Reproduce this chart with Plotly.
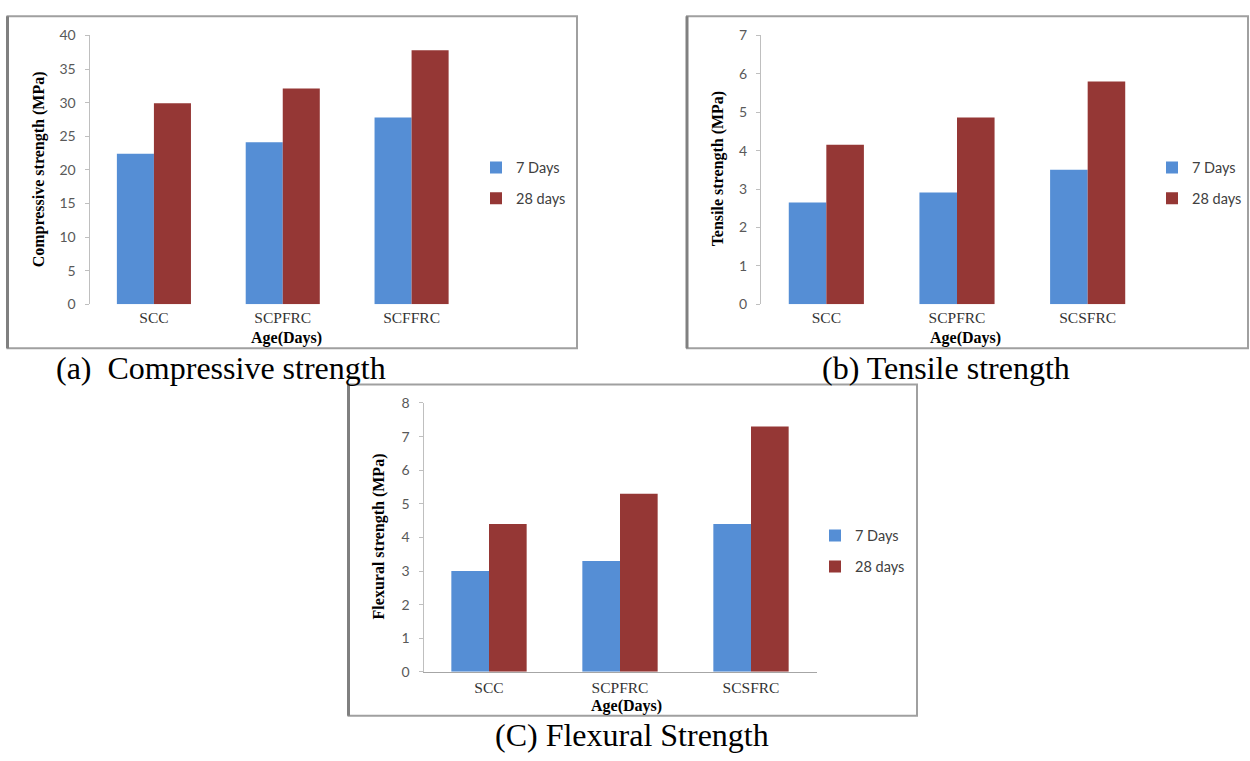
import plotly.graph_objects as go

W, H = 1250, 761

# ---- data ----
cats_a = ["SCC", "SCPFRC", "SCFFRC"]
cats_bc = ["SCC", "SCPFRC", "SCSFRC"]
series_names = ["7 Days", "28 days"]

compressive_7 = [22.4, 24.1, 27.8]
compressive_28 = [29.9, 32.1, 37.8]
tensile_7 = [2.65, 2.91, 3.50]
tensile_28 = [4.15, 4.86, 5.80]
flexural_7 = [3.0, 3.3, 4.4]
flexural_28 = [4.4, 5.3, 7.3]

y_titles = ["Compressive strength (MPa)", "Tensile strength (MPa)", "Flexural strength (MPa)"]
x_title = "Age(Days)"
captions = ["(a)\u00a0\u00a0Compressive strength", "(b) Tensile strength", "(C) Flexural Strength"]

BLUE = "#558ED5"
RED = "#953735"
TICK_FONT = dict(family="Lato, Liberation Sans, sans-serif", size=14, color="#595959")
CAT_FONT = dict(family="Liberation Serif, serif", size=15.5, color="#333333")
TITLE_FONT = dict(family="Liberation Serif, serif", size=16, color="#000000")
CAP_FONT = dict(family="Liberation Serif, serif", size=32, color="#000000")


def fx(px):
    return px / W


def fy(py):
    return 1 - py / H


fig = go.Figure()

panels = [
    dict(cats=cats_a, v7=compressive_7, v28=compressive_28, x="x", y="y", legend="legend"),
    dict(cats=cats_bc, v7=tensile_7, v28=tensile_28, x="x2", y="y2", legend="legend2"),
    dict(cats=cats_bc, v7=flexural_7, v28=flexural_28, x="x3", y="y3", legend="legend3"),
]

for p in panels:
    for name, vals, col in [(series_names[0], p["v7"], BLUE), (series_names[1], p["v28"], RED)]:
        fig.add_trace(go.Bar(
            x=p["cats"], y=vals, name=name, marker=dict(color=col, line=dict(width=0)),
            xaxis=p["x"], yaxis=p["y"], legend=p["legend"], legendgroup=p["legend"] + name,
        ))

# plot-area geometry (pixels)
geo = [
    dict(x0=89.5, x1=476, y0=302, y1=27, ymax=40, dtick=5),
    dict(x0=761, x1=1153, y0=302, y1=27, ymax=7, dtick=1),
    dict(x0=423.5, x1=816.5, y0=678, y1=403, ymax=8, dtick=1),
]

for i, g in enumerate(geo):
    sfx = "" if i == 0 else str(i + 1)
    fig.layout["xaxis" + sfx] = dict(
        domain=[fx(g["x0"]), fx(g["x1"])], anchor="y" + sfx, range=[-0.5, 2.5],
        showline=(i == 2), linecolor="#a6a6a6", linewidth=1, ticks="",
        tickfont=CAT_FONT, showgrid=False, zeroline=False, ticklabelstandoff=2,
    )
    fig.layout["yaxis" + sfx] = dict(
        domain=[fy(g["y0"]), fy(g["y1"])], anchor="x" + sfx, range=[0, g["ymax"]],
        dtick=g["dtick"], showline=True, linecolor="#bfbfbf", linewidth=1,
        ticks="outside", ticklen=4, tickcolor="#bfbfbf", tickfont=TICK_FONT,
        showgrid=False, zeroline=False, ticklabelstandoff=6,
    )

legend_common = dict(
    font=dict(family="Lato, Liberation Sans, sans-serif", size=14.5, color="#404040"),
    bgcolor="rgba(0,0,0,0)", itemwidth=30, tracegroupgap=9, traceorder="grouped",
    xanchor="left", yanchor="middle",
)
fig.update_layout(
    legend=dict(x=fx(476), y=fy(178), **legend_common),
    legend2=dict(x=fx(1152), y=fy(178), **legend_common),
    legend3=dict(x=fx(815), y=fy(554.5), **legend_common),
)

# frames
frames = [(7.5, 7.5, 577, 347), (687, 7.5, 1248, 347), (348.5, 384, 917, 723)]
for (x0, y0, x1, y1) in frames:
    fig.add_shape(type="rect", xref="paper", yref="paper",
                  x0=fx(x0), x1=fx(x1), y0=fy(y1), y1=fy(y0),
                  line=dict(color="#a0a0a0", width=2), fillcolor="rgba(0,0,0,0)", layer="below")
    fig.add_shape(type="line", xref="paper", yref="paper",
                  x0=fx(x0), x1=fx(x0), y0=fy(y1), y1=fy(y0),
                  line=dict(color="#808080", width=3))

# axis titles
ytitle_pos = [(38.5, 164.5), (718, 163), (378.5, 540)]
xtitle_pos = [(286.5, 337), (965, 337), (626.5, 713)]
for i in range(3):
    fig.add_annotation(text="<b>" + y_titles[i] + "</b>", xref="paper", yref="paper",
                       x=fx(ytitle_pos[i][0]), y=fy(ytitle_pos[i][1]), textangle=-90,
                       showarrow=False, font=TITLE_FONT, xanchor="center", yanchor="middle")
    fig.add_annotation(text="<b>" + x_title + "</b>", xref="paper", yref="paper",
                       x=fx(xtitle_pos[i][0]), y=fy(xtitle_pos[i][1]),
                       showarrow=False, font=TITLE_FONT, xanchor="center", yanchor="middle")

# captions
fig.add_annotation(text=captions[0], xref="paper", yref="paper", x=fx(54), y=fy(367),
                   showarrow=False, font=CAP_FONT, xanchor="left", yanchor="middle")
fig.add_annotation(text=captions[1], xref="paper", yref="paper", x=fx(946), y=fy(367),
                   showarrow=False, font=CAP_FONT, xanchor="center", yanchor="middle")
fig.add_annotation(text=captions[2], xref="paper", yref="paper", x=fx(632), y=fy(743),
                   showarrow=False, font=CAP_FONT, xanchor="center", yanchor="middle")

fig.update_layout(
    width=W, height=H, autosize=False, margin=dict(l=0, r=0, t=0, b=0, pad=0),
    paper_bgcolor="white", plot_bgcolor="white", barmode="group", bargap=0.425,
    bargroupgap=0, showlegend=True,
)

fig.write_html("out.html", config={"displayModeBar": False},
               post_script="document.body.style.margin='0';document.body.style.overflow='hidden';")
